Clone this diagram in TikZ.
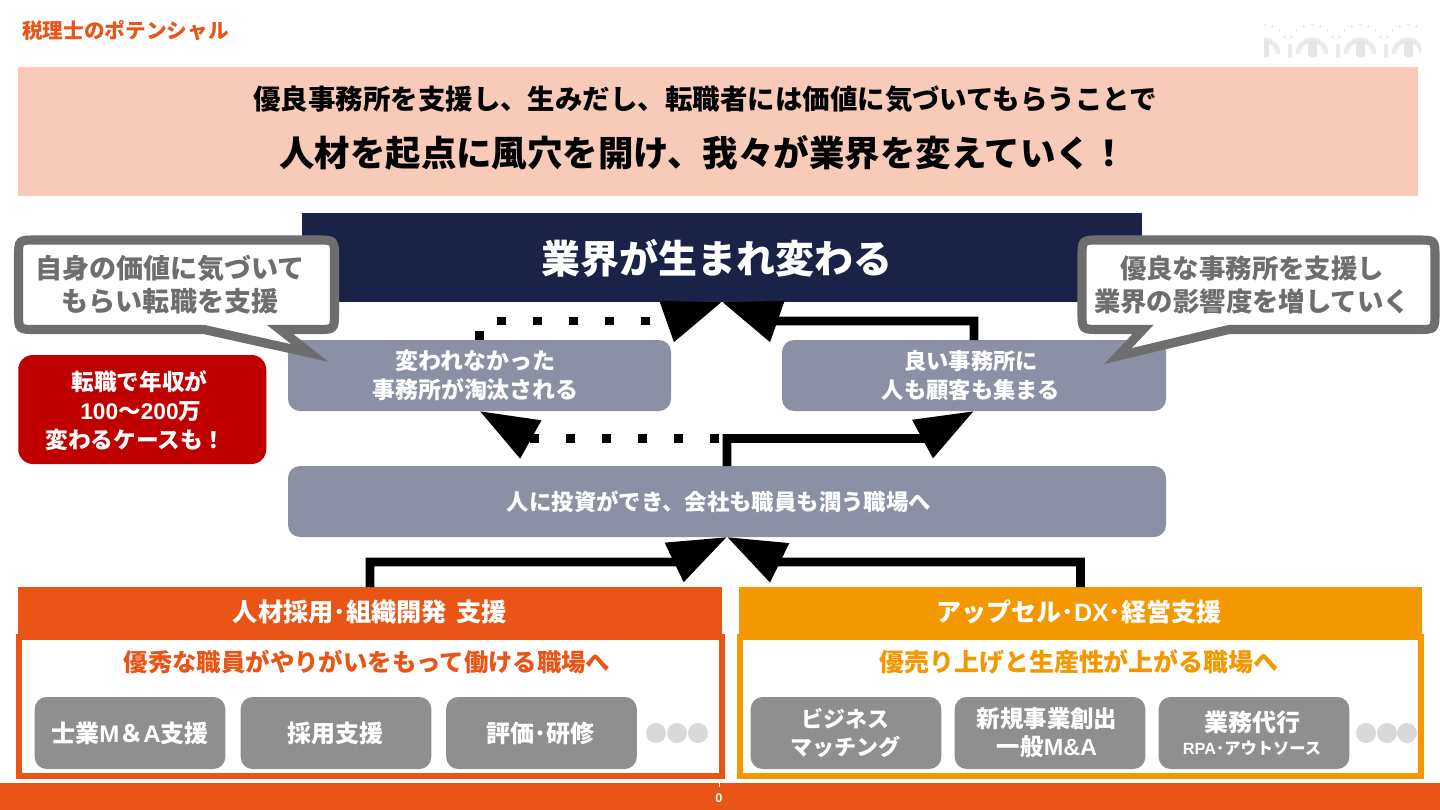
\documentclass[tikz,border=0pt]{standalone}
\usepackage{fontspec}
\usetikzlibrary{arrows.meta}
\setmainfont{Noto Sans CJK JP}
\newfontfamily\latinf{Liberation Sans}
\newcommand{\lat}[1]{{\latinf #1}}
\newcommand{\fs}[2]{\fontsize{#1}{#2}\selectfont}
\definecolor{brandO}{HTML}{E95516}
\definecolor{brandY}{HTML}{F39800}
\definecolor{salmon}{HTML}{F8CBB8}
\definecolor{navy}{HTML}{1B2248}
\definecolor{slateb}{HTML}{8B90A4}
\definecolor{btn}{HTML}{8F8F8F}
\definecolor{dotg}{HTML}{D9D9D9}
\definecolor{callg}{HTML}{6E6E6E}
\definecolor{redb}{HTML}{C00000}
\definecolor{logog}{HTML}{EBEBEB}
\tikzset{
  px/.style={x=0.75pt,y=-0.75pt},
  boxbase/.style={draw=none,inner sep=0pt,outer sep=0pt},
  sbox/.style={boxbase,fill=slateb,rounded corners=9pt},
  gbtn/.style={boxbase,fill=btn,rounded corners=9pt,minimum width=143pt,minimum height=54pt},
  txt/.style={inner sep=0pt,outer sep=0pt,align=center,font=\bfseries},
  wtxt/.style={txt,text=white},
  gtxt/.style={txt,text=callg},
  conn/.style={line width=6.5pt,line join=miter,-{Triangle[length=44pt,width=31pt]}},
  connd/.style={conn,dash pattern=on 6.75pt off 20.25pt},
  callout/.style={draw=callg,fill=white,line width=6.8pt,line join=miter},
  ell/.style={fill=dotg,draw=none},
}
\begin{document}
\begin{tikzpicture}[px]
\useasboundingbox (0,0) rectangle (1440,810);
\fill[white] (0,0) rectangle (1440,810);

% logo
\begin{scope}
\clip (1264,23) rectangle (1421,60);
\foreach \c in {1264,1312,1360,1408}{
  \draw[logog,line width=3.6pt] (\c-14,54) arc[start angle=180,end angle=360,radius=14];
  \fill[logog!95!gray,rounded corners=2pt] (\c-4,41) rectangle (\c+5,57);
  \fill[logog] (\c-24,44) rectangle (\c-20,58);
  \foreach \a in {30,50,...,150}{
    \fill[logog!85!gray] ({\c+24*cos(\a)},{49-24*sin(\a)}) circle[radius=1];
  }
}
\end{scope}

% title and banner
\node[txt,text=brandO,anchor=west,font=\bfseries\fs{15.5}{18}] (title) at (22,31) {税理士のポテンシャル};
\node[boxbase,fill=salmon,minimum width=1050pt,minimum height=96.75pt] (banner) at (718,131.5) {};
\node[txt,font=\bfseries\fs{20.6}{24}] (bannerA) at (705,99) {優良事務所を支援し、生みだし、転職者には価値に気づいてもらうことで};
\node[txt,font=\bfseries\fs{26.6}{30}] (bannerB) at (703,153) {人材を起点に風穴を開け、我々が業界を変えていく！};

% main boxes
\node[boxbase,fill=navy,minimum width=630pt,minimum height=66.75pt] (top) at (722,257.5) {};
\node[wtxt,font=\bfseries\fs{29.2}{34}] (topt) at (717,258) {業界が生まれ変わる};
\node[sbox,minimum width=287.25pt,minimum height=53.25pt] (bad) at (479.5,375.5) {};
\node[sbox,minimum width=288pt,minimum height=53.25pt] (good) at (974,375.5) {};
\node[sbox,minimum width=658.5pt,minimum height=53.25pt] (mid) at (727,501.5) {};
\node[wtxt,font=\bfseries\fs{17.2}{21.75}] (badt) at (475.5,375.5) {変われなかった\\事務所が淘汰される};
\node[wtxt,font=\bfseries\fs{16.7}{21.75}] (goodt) at (971,375.5) {良い事務所に\\人も顧客も集まる};
\node[wtxt,font=\bfseries\fs{16.8}{20}] (midt) at (719,502) {人に投資ができ、会社も職員も潤う職場へ};

% lower panels
\node[boxbase,fill=brandO,minimum width=528pt,minimum height=39.75pt] (hr) at (370,613.5) {};
\node[boxbase,fill=brandY,minimum width=512.25pt,minimum height=39.75pt] (dx) at (1080.5,613.5) {};
\node[boxbase,draw=brandO,line width=4.5pt,minimum width=527pt,minimum height=104pt] (hrframe) at (370.2,706.5) {};
\node[boxbase,draw=brandY,line width=4.5pt,minimum width=511pt,minimum height=104pt] (dxframe) at (1080.5,706.5) {};
\node[wtxt,font=\bfseries\fs{18.9}{21}] (hrt) at (370,612) {人材採用･組織開発\hspace{3pt} 支援};
\node[wtxt,font=\bfseries\fs{18.8}{21}] (dxt) at (1079,612) {アップセル･\lat{DX}･経営支援};
\node[txt,text=brandO,font=\bfseries\fs{18.3}{22}] (hrs) at (367,662) {優秀な職員がやりがいをもって働ける職場へ};
\node[txt,text=brandY,font=\bfseries\fs{18.7}{22}] (dxs) at (1079,662) {優売り上げと生産性が上がる職場へ};

% buttons
\node[gbtn] (b1) at (130,733) {};
\node[gbtn] (b2) at (336,733) {};
\node[gbtn] (b3) at (541.5,733) {};
\node[gbtn] (b4) at (846,733) {};
\node[gbtn] (b5) at (1050,733) {};
\node[gbtn] (b6) at (1254,733) {};
\node[wtxt,font=\bfseries\fs{18}{21}] (b1t) at (130,733) {士業\lat{M}＆\lat{A}支援};
\node[wtxt,font=\bfseries\fs{18}{21}] (b2t) at (335,733) {採用支援};
\node[wtxt,font=\bfseries\fs{18}{21}] (b3t) at (540,733) {評価･研修};
\node[wtxt,font=\bfseries\fs{16.5}{21}] (b4t) at (845,733) {ビジネス\\マッチング};
\node[wtxt,font=\bfseries\fs{17.6}{21}] (b5t) at (1047,733) {新規事業創出\\一般\lat{M\&A}};
\node[wtxt,font=\bfseries\fs{18}{21}] (b6t) at (1252,722) {業務代行};
\node[wtxt,font=\bfseries\fs{12.2}{14}] (b6u) at (1252,748) {\lat{RPA}･アウトソース};
\foreach \n/\x in {e1/656,e2/677,e3/698,e4/1366,e5/1387,e6/1407}
  \node[ell,circle,minimum size=15pt,inner sep=0pt] (\n) at (\x,733) {};

% connectors
\coordinate (kBadTop) at (668,321);
\coordinate (kGoodTop) at (776,321);
\coordinate (kMidBad) at (529,438.5);
\coordinate (kMidGood) at (923.5,438.5);
\coordinate (kHrMid) at (675,562);
\coordinate (kDxMid) at (778,562);
\draw[connd] (bad.north) |- (kBadTop) -- (top.south);
\draw[conn] (good.north) |- (kGoodTop) -- (top.south);
\draw[connd] (mid.north) |- (kMidBad) -- (bad.south);
\draw[conn] (mid.north) |- (kMidGood) -- (good.south);
\draw[conn] (hr.north) |- (kHrMid) -- (mid.south);
\draw[conn] (dx.north) |- (kDxMid) -- (mid.south);

% callouts
\draw[callout] (334.5,312) .. controls (334.5,329.5) .. (317,329.5) -- (280,329.5) -- (310,353) -- (204,329.5) -- (36,329.5) .. controls (18.5,329.5) .. (18.5,312) -- (18.5,257.5) .. controls (18.5,240) .. (36,240) -- (317,240) .. controls (334.5,240) .. (334.5,257.5) -- cycle;
\draw[callout] (1435,312) .. controls (1435,329.5) .. (1417.5,329.5) -- (1229,329.5) -- (1118,356) -- (1143,329.5) -- (1099.5,329.5) .. controls (1082,329.5) .. (1082,312) -- (1082,257.5) .. controls (1082,240) .. (1099.5,240) -- (1417.5,240) .. controls (1435,240) .. (1435,257.5) -- cycle;
\node[gtxt,font=\bfseries\fs{20.3}{24.75}] (cl) at (170,285) {自身の価値に気づいて\\もらい転職を支援};
\node[gtxt,font=\bfseries\fs{19.8}{24.75}] (cr) at (1252,285) {優良な事務所を支援し\\業界の影響度を増していく};

% red box
\node[boxbase,fill=redb,rounded corners=11pt,minimum width=186pt,minimum height=81.75pt] (red) at (142.25,409.5) {};
\node[wtxt,font=\bfseries\fs{17}{21.75}] (redt) at (135.5,410.5) {\hspace*{6pt}転職で年収が\\\hspace*{8pt}\lat{100}～\lat{200}万\\変わるケースも！};

% footer
\node[boxbase,fill=brandO,minimum width=1080pt,minimum height=20.25pt] (foot) at (720,796.5) {};
\node[wtxt,font=\bfseries\fs{9.5}{11}] (page) at (719,798) {\lat{0}};
\draw[white,line width=0.7pt] (foot.north -| page.north) -- ++(0,4);
\end{tikzpicture}
\end{document}
